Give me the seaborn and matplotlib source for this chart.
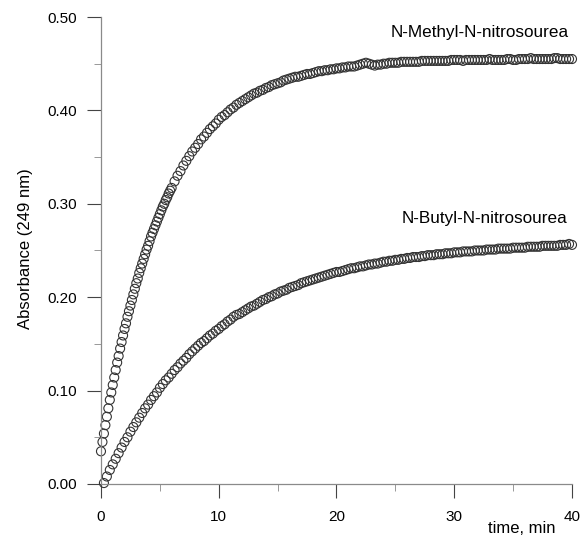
import numpy as np
import pandas as pd
import seaborn as sns
import matplotlib.pyplot as plt
from matplotlib.ticker import MultipleLocator, FormatStrFormatter

# Sampling times (min): methyl read every 0.125 min up to 6 min, then every 0.25 min
methyl_time = np.concatenate([np.arange(0, 6.01, 0.125), np.arange(6.25, 40.01, 0.25)])
methyl_abs = [
    0.035, 0.045, 0.054, 0.063, 0.072, 0.081, 0.090, 0.098, 0.106, 0.114,
    0.122, 0.130, 0.137, 0.145, 0.152, 0.159, 0.166, 0.172, 0.179, 0.185,
    0.191, 0.197, 0.203, 0.209, 0.215, 0.220, 0.226, 0.231, 0.236, 0.241,
    0.246, 0.251, 0.255, 0.260, 0.265, 0.269, 0.273, 0.277, 0.281, 0.285,
    0.289, 0.293, 0.297, 0.300, 0.304, 0.307, 0.311, 0.314, 0.317,
    0.324, 0.330, 0.335, 0.341, 0.346, 0.351, 0.356, 0.360,
    0.364, 0.369, 0.372, 0.376, 0.380, 0.383, 0.386, 0.390,
    0.393, 0.395, 0.398, 0.401, 0.403, 0.406, 0.408, 0.410,
    0.412, 0.414, 0.416, 0.418, 0.419, 0.421, 0.422, 0.424,
    0.425, 0.427, 0.428, 0.429, 0.430, 0.432, 0.433, 0.434,
    0.435, 0.436, 0.436, 0.437, 0.438, 0.439, 0.439, 0.440,
    0.441, 0.442, 0.442, 0.443, 0.443, 0.444, 0.444, 0.445,
    0.445, 0.446, 0.446, 0.447, 0.447, 0.447, 0.448, 0.449,
    0.450, 0.451, 0.450, 0.449, 0.448, 0.449, 0.449, 0.450,
    0.450, 0.451, 0.451, 0.451, 0.451, 0.452, 0.452, 0.452,
    0.452, 0.452, 0.452, 0.452, 0.453, 0.453, 0.453, 0.453,
    0.453, 0.453, 0.453, 0.453, 0.453, 0.453, 0.454, 0.454,
    0.454, 0.454, 0.453, 0.454, 0.454, 0.454, 0.454, 0.454,
    0.454, 0.454, 0.454, 0.455, 0.454, 0.454, 0.454, 0.454,
    0.454, 0.455, 0.455, 0.454, 0.454, 0.455, 0.455, 0.455,
    0.455, 0.456, 0.455, 0.455, 0.455, 0.455, 0.455, 0.455,
    0.455, 0.456, 0.456, 0.455, 0.455, 0.455, 0.455, 0.455,
]

butyl_time = np.arange(0.25, 40.01, 0.25)
butyl_abs = [
    0.001, 0.008, 0.015, 0.021, 0.027, 0.033, 0.039, 0.045,
    0.050, 0.056, 0.061, 0.066, 0.071, 0.076, 0.081, 0.085,
    0.090, 0.094, 0.098, 0.103, 0.107, 0.111, 0.114, 0.118,
    0.122, 0.125, 0.129, 0.132, 0.135, 0.139, 0.142, 0.145,
    0.148, 0.151, 0.153, 0.156, 0.159, 0.161, 0.164, 0.166,
    0.169, 0.171, 0.174, 0.176, 0.179, 0.181, 0.182, 0.184,
    0.186, 0.188, 0.190, 0.191, 0.193, 0.195, 0.197, 0.198,
    0.200, 0.201, 0.203, 0.204, 0.206, 0.207, 0.208, 0.210,
    0.211, 0.212, 0.213, 0.215, 0.216, 0.217, 0.218, 0.219,
    0.220, 0.221, 0.222, 0.223, 0.224, 0.225, 0.226, 0.227,
    0.227, 0.228, 0.229, 0.230, 0.231, 0.231, 0.232, 0.233,
    0.233, 0.234, 0.235, 0.235, 0.236, 0.236, 0.237, 0.238,
    0.238, 0.239, 0.239, 0.240, 0.240, 0.241, 0.241, 0.242,
    0.242, 0.243, 0.243, 0.243, 0.244, 0.244, 0.245, 0.245,
    0.245, 0.246, 0.246, 0.246, 0.247, 0.247, 0.247, 0.248,
    0.248, 0.248, 0.249, 0.249, 0.249, 0.249, 0.250, 0.250,
    0.250, 0.250, 0.251, 0.251, 0.251, 0.251, 0.252, 0.252,
    0.252, 0.252, 0.252, 0.253, 0.253, 0.253, 0.253, 0.253,
    0.254, 0.254, 0.254, 0.254, 0.254, 0.255, 0.255, 0.255,
    0.255, 0.255, 0.255, 0.256, 0.256, 0.256, 0.257, 0.256,
]

labels = ["N-Methyl-N-nitrosourea", "N-Butyl-N-nitrosourea"]

df = pd.concat([
    pd.DataFrame({"time": methyl_time, "absorbance": methyl_abs, "compound": labels[0]}),
    pd.DataFrame({"time": butyl_time, "absorbance": butyl_abs, "compound": labels[1]}),
], ignore_index=True)

sns.set_style("ticks")
plt.rcParams['font.family'] = ['Liberation Sans', 'DejaVu Sans']
plt.rcParams['text.color'] = 'black'
plt.rcParams['axes.labelcolor'] = 'black'

fig = plt.figure(figsize=(5.81, 5.38), dpi=100)
ax = fig.add_axes([0.1738, 0.1004, 0.8107, 0.868])

sns.scatterplot(data=df, x="time", y="absorbance", ax=ax, s=42, marker="o",
                facecolor="none", edgecolor="#333333", linewidth=0.8,
                clip_on=False, legend=False)

ax.set_xlim(0, 40)
ax.set_ylim(0, 0.5)
ax.xaxis.set_major_locator(MultipleLocator(10))
ax.xaxis.set_minor_locator(MultipleLocator(5))
ax.yaxis.set_major_locator(MultipleLocator(0.1))
ax.yaxis.set_minor_locator(MultipleLocator(0.05))
ax.yaxis.set_major_formatter(FormatStrFormatter('%.2f'))

ax.tick_params(which='major', length=10, width=0.8, color='#444',
               labelsize=11, labelcolor='black')
ax.tick_params(axis='x', which='major', pad=9)
ax.tick_params(axis='y', which='major', pad=7)
ax.tick_params(which='minor', length=5, width=0.6, color='#888')

for side in ['top', 'right']:
    ax.spines[side].set_visible(False)
for side in ['left', 'bottom']:
    ax.spines[side].set_color('#8a8a8a')
    ax.spines[side].set_linewidth(0.9)

ax.set_ylabel("Absorbance (249 nm)", fontsize=12)
ax.yaxis.set_label_coords(-0.145, 0.505)
ax.set_xlabel("time, min", fontsize=12, loc='right')
ax.xaxis.set_label_coords(0.966, -0.08)

ax.text(39.75, 0.483, labels[0], ha='right', va='center', fontsize=12.3)
ax.text(39.6, 0.284, labels[1], ha='right', va='center', fontsize=12.3)

fig.savefig("out.png", dpi=100)
